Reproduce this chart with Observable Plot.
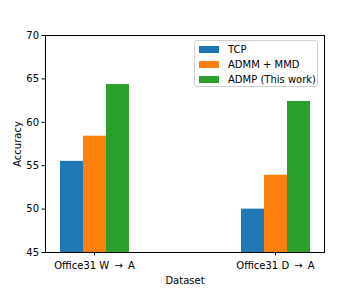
<!DOCTYPE html>
<html><head><meta charset="utf-8">
<script src="https://cdn.jsdelivr.net/npm/d3@7"></script>
<script src="https://cdn.jsdelivr.net/npm/@observablehq/plot@0.6"></script>
<style>
body{margin:0;background:#fff}
#wrap{position:relative;width:360px;height:288px;font-family:"DejaVu Sans",sans-serif}
#legend{position:absolute;left:194px;top:40px;width:122px;height:45px;border:1px solid #d0d0d0;border-radius:3px;background:rgba(255,255,255,0.8);box-sizing:content-box}
.row{position:absolute;left:4px;height:12px;display:flex;align-items:center;font-size:10px;color:#000;white-space:nowrap}
.sw{width:20px;height:7px;margin-right:9px}
</style>
</head><body><div id="wrap"></div>
<script>
const datasets = ["Office31 W \u2009\u2192\u2009 A", "Office31 D \u2009\u2192\u2009 A"];
const methods = ["TCP", "ADMM + MMD", "ADMP (This work)"];
const colors = ["#1f77b4", "#ff7f0e", "#2ca02c"];
const tcp = [55.5, 50.0];
const admm = [58.4, 53.9];
const admp = [64.35, 62.4];
const yDomain = [45, 70];
const yTicks = [45, 50, 55, 60, 65, 70];

const series = [tcp, admm, admp];
const data = datasets.flatMap((d, i) => methods.map((m, j) => ({dataset: d, method: m, value: series[j][i]})));

const chart = Plot.plot({
  width: 360, height: 288,
  marginLeft: 45, marginRight: 36, marginTop: 35, marginBottom: 36,
  style: {fontFamily: "DejaVu Sans", fontSize: "10px", color: "#000", background: "#fff"},
  fx: {domain: datasets, paddingInner: 0.4586, paddingOuter: 0, axis: null},
  x: {domain: methods, axis: null, paddingInner: 0, paddingOuter: 0.5417},
  y: {domain: yDomain},
  color: {domain: methods, range: colors},
  marks: [
    Plot.barY(data, {fx: "dataset", x: "method", y1: yDomain[0], y2: "value", fill: "method"}),
    Plot.frame({facet: "super", stroke: "#000", strokeWidth: 1}),
    Plot.axisY({ticks: yTicks, tickSize: 3.5, tickPadding: 3, label: "Accuracy", labelAnchor: "center", labelArrow: "none", labelOffset: 32}),
    Plot.axisFx({anchor: "bottom", tickSize: 3.5, tickPadding: 6, label: "Dataset", labelAnchor: "center", labelArrow: "none", labelOffset: 31})
  ]
});
const wrap = document.getElementById("wrap");
wrap.appendChild(chart);
const lg = document.createElement("div");
lg.id = "legend";
methods.forEach((m, j) => {
  const r = document.createElement("div");
  r.className = "row";
  r.style.top = (2 + j * 15) + "px";
  const s = document.createElement("div");
  s.className = "sw";
  s.style.background = colors[j];
  r.appendChild(s);
  const t = document.createElement("span");
  t.textContent = m;
  r.appendChild(t);
  lg.appendChild(r);
});
wrap.appendChild(lg);
</script>
</body></html>
